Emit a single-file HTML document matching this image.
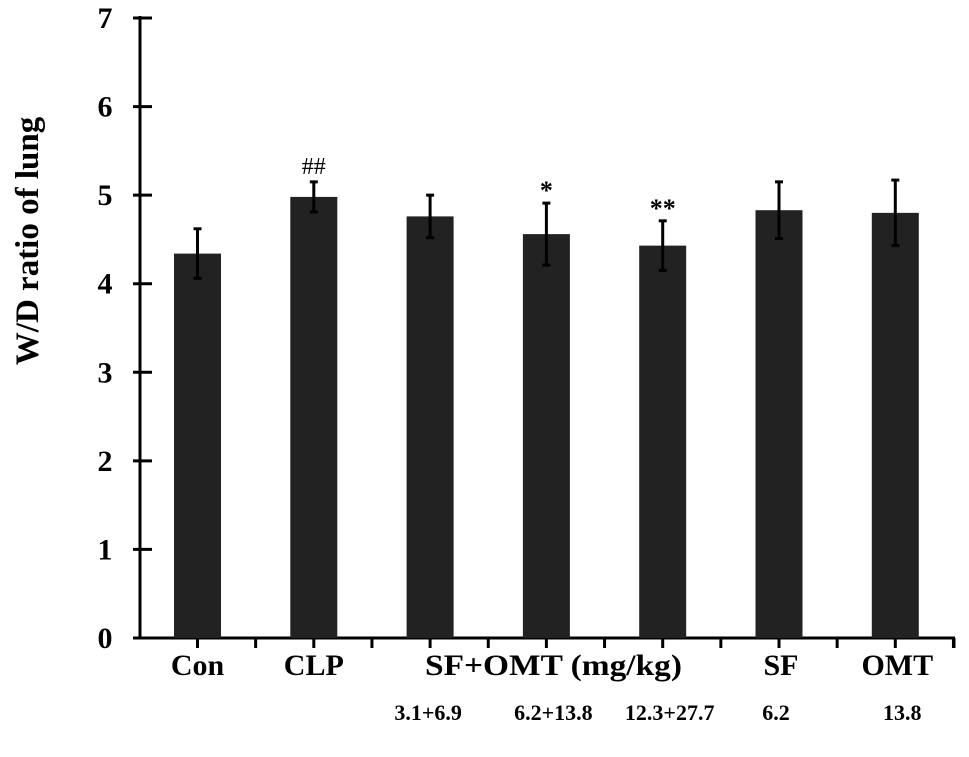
<!DOCTYPE html>
<html><head><meta charset="utf-8"><style>
html,body{margin:0;padding:0;background:#fff;}
svg{display:block;font-family:"Liberation Serif",serif;font-weight:bold;}
</style></head><body>
<svg id="chart" width="969" height="757" viewBox="0 0 969 757">
<text transform="translate(38,241) rotate(-90)" text-anchor="middle" font-size="33" fill="#000">W/D ratio of lung</text>
<g id="axes"></g>
<g id="bars"></g>
<text x="425" y="675" textLength="257" lengthAdjust="spacingAndGlyphs" font-size="30" fill="#000">SF+OMT (mg/kg)</text>
</svg>
<script>
const categories = ["Con","CLP","3.1+6.9","6.2+13.8","12.3+27.7","6.2","13.8"];
const topLabels = ["Con","CLP","","","","SF","OMT"];
const subLabels = ["","","3.1+6.9","6.2+13.8","12.3+27.7","6.2","13.8"];
const means = [4.34,4.98,4.76,4.56,4.43,4.83,4.80];
const errors = [0.28,0.17,0.24,0.35,0.28,0.32,0.37];
const marks = ["","##","","*","**","",""];
const yTicks = [0,1,2,3,4,5,6,7];

const NS="http://www.w3.org/2000/svg";
const x0=140, x1=955, y0=638, yTop=18, step=116.3, firstC=197.5, barW=47;
const subShift=[0,0,-2,7,7,-3,7];
function yScale(v){return y0-(v/7)*(y0-yTop);}
function xScale(i){return firstC+i*step;}
function mk(tag,attrs,parent){const e=document.createElementNS(NS,tag);for(const k in attrs)e.setAttribute(k,attrs[k]);parent.appendChild(e);return e;}
const axes=document.getElementById('axes'), bars=document.getElementById('bars');

let yl=mk('line',{x1:x0,y1:yTop-2,x2:x0,y2:y0+1,stroke:'#000','stroke-width':3},axes);


let xl=mk('line',{x1:x0-1,y1:y0,x2:x1,y2:y0,stroke:'#000','stroke-width':3},axes);



yTicks.forEach(t=>{
  const y=yScale(t);
  const l=mk('line',{x1:133,y1:y,x2:152,y2:y,stroke:'#000','stroke-width':3},axes);
  
  
  const tx=mk('text',{x:105,y:y+10,'text-anchor':'middle','font-size':30,fill:'#000'},axes);
  tx.textContent=t;
  
  
});
for(let k=0;k<=categories.length*2;k++){
  const x=firstC+k*step/2;
  if(x>x1) break;
  const l=mk('line',{x1:x,y1:y0,x2:x,y2:y0+10,stroke:'#000','stroke-width':3},axes);
  
  
}
const endT=mk('line',{x1:x1-1,y1:y0,x2:x1-1,y2:y0+10,stroke:'#000','stroke-width':3},axes);



categories.forEach((c,i)=>{
  const cx=xScale(i), top=yScale(means[i]);
  const r=mk('rect',{x:cx-barW/2,y:top,width:barW,height:y0-top,fill:'#222'},bars);
  
  
  const eh=yScale(means[i]+errors[i]), el=yScale(means[i]-errors[i]);
  const g=mk('g',{stroke:'#000','stroke-width':3},bars);
  
  
  mk('line',{x1:cx,y1:eh,x2:cx,y2:el},g);
  mk('line',{x1:cx-4,y1:eh,x2:cx+4,y2:eh},g);
  mk('line',{x1:cx-4,y1:el,x2:cx+4,y2:el},g);
  if(marks[i]){
    const m=mk('text',{x:cx,y:eh-(marks[i][0]==='#'?8:4),'text-anchor':'middle','font-size':marks[i][0]==='#'?24:26,'font-weight':marks[i][0]==='#'?'normal':'bold',fill:'#000'},bars);
    m.textContent=marks[i];
    
    
  }
  if(topLabels[i]){
    const t=mk('text',{x:cx+(i>=5?2:0),y:675,'text-anchor':'middle','font-size':30,fill:'#000'},bars);
    t.textContent=topLabels[i];
    
    
  }
  if(subLabels[i]){
    const t=mk('text',{x:cx+subShift[i],y:720,'text-anchor':'middle','font-size':22,fill:'#000'},bars);
    t.textContent=subLabels[i];
    
    
  }
});
</script>
</body></html>
